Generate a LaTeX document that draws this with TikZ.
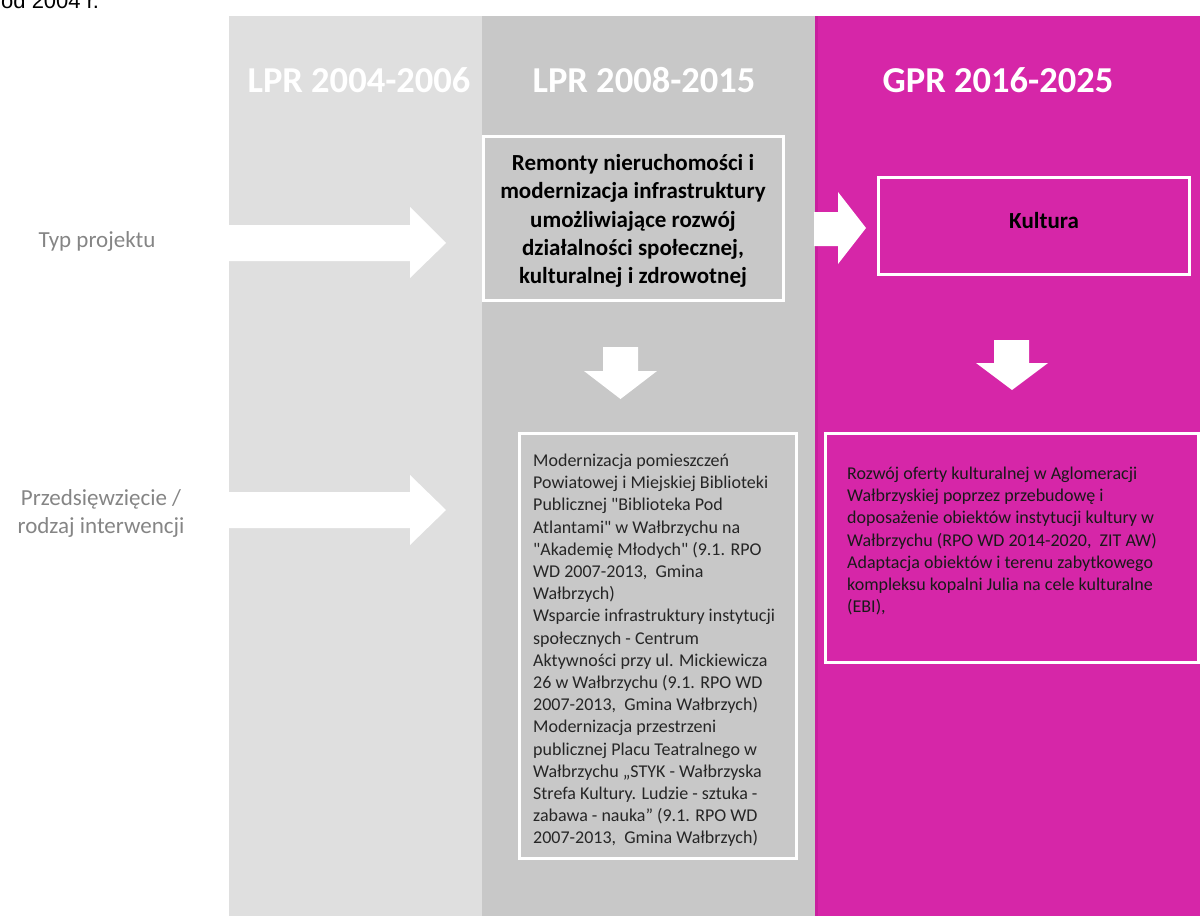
\documentclass[tikz,border=0pt]{standalone}
\usepackage{fontspec}
\setmainfont{Carlito}
\newfontfamily\notefont{Liberation Sans}
\definecolor{bandA}{HTML}{DFDFDF}
\definecolor{bandB}{HTML}{C8C8C8}
\definecolor{bandC}{HTML}{D626A8}
\definecolor{bandCedge}{HTML}{C91F9E}
\definecolor{labelgray}{HTML}{858585}
\definecolor{bodytext}{HTML}{262626}
\newcommand{\dq}{\textquotedbl}
\begin{document}
\begin{tikzpicture}[x=1pt,y=-1pt,
  band/.style={draw=none},
  blockarrow/.style={fill=white,draw=none},
  header/.style={font=\bfseries\fontsize{36.5}{40}\selectfont,text=white,inner sep=0pt},
  rowlabel/.style={font=\fontsize{23}{28}\selectfont,text=labelgray,align=center,inner sep=0pt},
  framebox/.style={draw=white,line width=3pt,inner sep=0pt},
  boldtext/.style={font=\bfseries\fontsize{23}{28.2}\selectfont,align=center,inner sep=0pt},
  smalltext/.style={font=\fontsize{18}{22.2}\selectfont,align=left,inner sep=0pt,anchor=north west}
]
\useasboundingbox (0,0) rectangle (1200,916);
\clip (0,0) rectangle (1200,916);

% note above the chart (cut by the page edge)
\node[anchor=base west,inner sep=0pt,font=\notefont\fontsize{22}{26}\selectfont] (note) at (1,8.5) {od 2004 r.};

% period bands
\fill[bandA] (229,16) rectangle (482,916);
\fill[bandB] (482,16) rectangle (815,916);
\fill[bandC] (815,16) rectangle (1200,916);
\draw[bandCedge,line width=3pt] (816.5,16) -- (816.5,916);

% band headers
\node[header] (h1) at (359,80) {LPR 2004-2006};
\node[header] (h2) at (644,80) {LPR 2008-2015};
\node[header] (h3) at (998,80) {GPR 2016-2025};

% row labels
\node[rowlabel,anchor=base] (typ) at (97,247) {Typ projektu};
\node[rowlabel,anchor=north] (przed) at (101,485.4) {\strut Przedsięwzięcie /\\rodzaj interwencji};

% row arrows into the second period
\fill[blockarrow] (229,225) -- (410,225) -- (410,207) -- (446,243) -- (410,278) -- (410,261) -- (229,261) -- cycle;
\fill[blockarrow] (229,492) -- (410,492) -- (410,475) -- (446,510) -- (410,545) -- (410,528) -- (229,528) -- cycle;

% project type boxes
\node[framebox,fill=bandB,minimum width=300pt,minimum height=164pt] (typbox) at (633,218) {};
\node[boldtext] (typtext) at ([yshift=-3pt]typbox.center) {Remonty nieruchomości i\\modernizacja infrastruktury\\umożliwiające rozwój\\działalności społecznej,\\kulturalnej i zdrowotnej};

\node[framebox,fill=bandC,minimum width=311pt,minimum height=97pt] (kultbox) at (1033.5,225.5) {};
\node[boldtext] (kulttext) at (1044,221) {Kultura};

% arrow between the periods
\fill[blockarrow] (814,212) -- (838,212) -- (838,192) -- (866,228) -- (838,264) -- (838,246) -- (814,246) -- cycle;

% down arrows
\fill[blockarrow] (603,347) -- (638,347) -- (638,371) -- (657,371) -- (620.5,399) -- (584,371) -- (603,371) -- cycle;
\fill[blockarrow] (994,340) -- (1029,340) -- (1029,363) -- (1048,363) -- (1012,390) -- (976,363) -- (994,363) -- cycle;

% intervention boxes
\node[framebox,fill=bandB,minimum width=277pt,minimum height=425pt] (intbox2) at (657.5,645.5) {};
\node[smalltext,text=bodytext] (inttext2) at (533,450.7) {\strut Modernizacja pomieszczeń\\
Powiatowej i Miejskiej Biblioteki\\
Publicznej \dq Biblioteka Pod\\
Atlantami\dq{} w Wałbrzychu na\\
\dq Akademię Młodych\dq{} (9.1. RPO\\
WD 2007-2013,~ Gmina\\
Wałbrzych)\\
Wsparcie infrastruktury instytucji\\
społecznych - Centrum\\
Aktywności przy ul. Mickiewicza\\
26 w Wałbrzychu (9.1. RPO WD\\
2007-2013,~ Gmina Wałbrzych)\\
Modernizacja przestrzeni\\
publicznej Placu Teatralnego w\\
Wałbrzychu „STYK - Wałbrzyska\\
Strefa Kultury. Ludzie - sztuka -\\
zabawa - nauka” (9.1. RPO WD\\
2007-2013,~ Gmina Wałbrzych)};

\node[framebox,fill=bandC,minimum width=373pt,minimum height=229pt] (intbox3) at (1011.5,547.5) {};
\node[smalltext,text=black!90] (inttext3) at (847,463.7) {\strut Rozwój oferty kulturalnej w Aglomeracji\\
Wałbrzyskiej poprzez przebudowę i\\
doposażenie obiektów instytucji kultury w\\
Wałbrzychu (RPO WD 2014-2020,~ ZIT AW)\\
Adaptacja obiektów i terenu zabytkowego\\
kompleksu kopalni Julia na cele kulturalne\\
(EBI),};
\end{tikzpicture}
\end{document}
